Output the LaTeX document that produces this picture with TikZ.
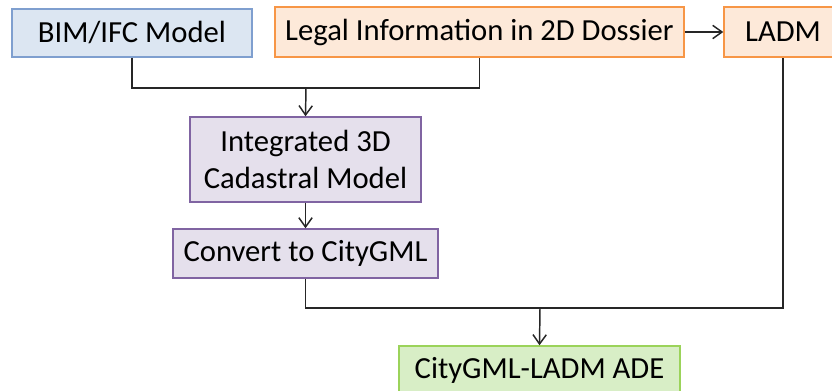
\documentclass[tikz,border=0pt]{standalone}
\usepackage{fontspec}
\setmainfont{Carlito}
\usetikzlibrary{arrows.meta}

\definecolor{bimfill}{HTML}{DCE6F2}
\definecolor{bimdraw}{HTML}{7F9FCF}
\definecolor{legfill}{HTML}{FDE9D9}
\definecolor{legdraw}{HTML}{F79646}
\definecolor{cadfill}{HTML}{E5E0EC}
\definecolor{caddraw}{HTML}{8064A2}
\definecolor{adefill}{HTML}{D8EEC6}
\definecolor{adedraw}{HTML}{9BD35A}
\definecolor{wire}{HTML}{262626}

\begin{document}
\begin{tikzpicture}[x=0.75pt,y=-0.75pt,
    >={Straight Barb[length=7pt,width=10pt]},
    box/.style={draw, line width=1.1pt, inner sep=0pt, align=center,
        font=\fontsize{23}{28}\selectfont},
    link/.style={draw=wire, line width=1.1pt}]
        \useasboundingbox (0,0) rectangle (832,391);
        \clip (0,0) rectangle (832,391);

        \coordinate (J1) at (306,88);
        \coordinate (J2) at (540,308);

        \node[box, fill=bimfill, draw=bimdraw, minimum width=180pt, minimum height=36pt] (bim) at (132,33) {BIM/IFC Model};
        \node[box, fill=legfill, draw=legdraw, minimum width=306.75pt, minimum height=37.5pt] (legal) at (479.5,32) {Legal Information in 2D Dossier};
        \node[box, fill=legfill, draw=legdraw, minimum width=88.5pt, minimum height=37.5pt] (ladm) at (783,32) {LADM};
        \node[box, fill=cadfill, draw=caddraw, minimum width=173.25pt, minimum height=63.75pt] (cad) at (305.5,159.5) {Integrated 3D\\Cadastral Model};
        \node[box, fill=cadfill, draw=caddraw, minimum width=198.75pt, minimum height=36.75pt] (conv) at (305.5,253.5) {Convert to CityGML};
        \node[box, fill=adefill, draw=adedraw, minimum width=210.75pt, minimum height=36pt] (ade) at (539.5,370) {CityGML-LADM ADE};

        \draw[link] (bim.south) |- (J1) -| (legal.south);
        \draw[link,->] (J1) -- (cad.north);
        \draw[link,->] (cad) -- (conv);
        \draw[link,->] (legal) -- (ladm);

        \draw[link] (conv.south) |- (J2) -| (ladm.south);
        \draw[link,->] (J2) -- (ade.north);
    \end{tikzpicture}
\end{document}
